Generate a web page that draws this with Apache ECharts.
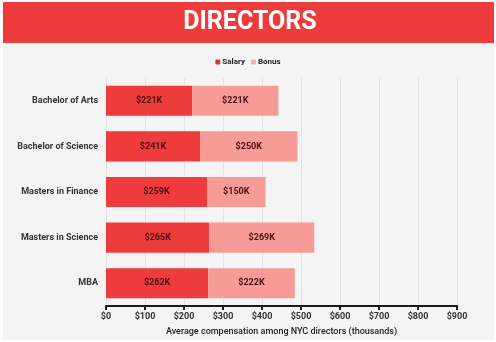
<!DOCTYPE html>
<html>
<head>
<meta charset="utf-8">
<script src="https://cdn.jsdelivr.net/npm/echarts@6/dist/echarts.min.js"></script>
<style>
  html, body { margin: 0; padding: 0; background: #ffffff; }
  #chart { width: 496px; height: 342px; }
</style>
</head>
<body>
<div id="chart"></div>
<script>
// Degree categories, listed top to bottom
const categories = ['Bachelor of Arts', 'Bachelor of Science', 'Masters in Finance', 'Masters in Science', 'MBA'];
// Average compensation in thousands of dollars
const salary = [221, 241, 259, 265, 262];
const bonus = [221, 250, 150, 269, 222];
const xTicks = [0, 100, 200, 300, 400, 500, 600, 700, 800, 900];

const chart = echarts.init(document.getElementById('chart'));
const fontFamily = 'Roboto, "Open Sans", sans-serif';
const valueLabel = {
  show: true,
  position: 'inside',
  formatter: p => '$' + p.value + 'K',
  color: '#4a0f0f',
  fontWeight: 'bold',
  fontSize: 9,
  fontFamily
};

chart.setOption({
  backgroundColor: '#ffffff',
  animation: false,
  graphic: [
    { type: 'rect', shape: { x: 3, y: 2, width: 491, height: 338 }, style: { fill: '#f4f4f4' }, z: -10 },
    { type: 'rect', shape: { x: 3, y: 2, width: 491, height: 41 }, style: { fill: '#ee3b3b' }, z: 0 },
    { type: 'text', x: 250, y: 23, style: { text: 'DIRECTORS', fill: '#ffffff', font: 'bold 25px ' + fontFamily, textAlign: 'center', textVerticalAlign: 'middle' }, z: 1 }
  ],
  legend: {
    top: 53,
    left: 'center',
    itemWidth: 5,
    itemHeight: 5,
    itemGap: 6,
    textStyle: { fontSize: 8, fontWeight: 'bold', color: '#222', fontFamily, padding: [0, 0, 0, -3] },
    data: [
      { name: 'Salary', itemStyle: { color: '#c8444a' } },
      { name: 'Bonus', itemStyle: { color: '#f2b4b4' } }
    ]
  },
  grid: { left: 106, right: 39, top: 78, bottom: 36 },
  xAxis: {
    type: 'value',
    min: xTicks[0],
    max: xTicks[xTicks.length - 1],
    interval: 100,
    axisLine: { show: true, lineStyle: { color: '#1a1a1a', width: 2 } },
    axisTick: { show: true, length: 4, lineStyle: { color: '#1a1a1a', width: 2 } },
    splitLine: { show: true, lineStyle: { color: '#e2e2e2', width: 1 } },
    axisLabel: { formatter: v => '$' + v, fontSize: 9, fontWeight: 'bold', color: '#333', fontFamily, margin: 6 },
    name: 'Average compensation among NYC directors (thousands)',
    nameLocation: 'middle',
    nameGap: 21,
    nameTextStyle: { fontSize: 9, color: '#222', fontFamily, fontWeight: 500 }
  },
  yAxis: {
    type: 'category',
    data: categories,
    inverse: true,
    axisLine: { show: false },
    axisTick: { show: false },
    axisLabel: { fontSize: 9, fontWeight: 'bold', color: '#333', fontFamily, margin: 8 }
  },
  series: [
    { name: 'Salary', type: 'bar', stack: 'total', data: salary, barWidth: '66%', itemStyle: { color: '#ee3b3b' }, label: valueLabel },
    { name: 'Bonus', type: 'bar', stack: 'total', data: bonus, barWidth: '66%', itemStyle: { color: '#f79b97' }, label: valueLabel }
  ]
});
</script>
</body>
</html>
